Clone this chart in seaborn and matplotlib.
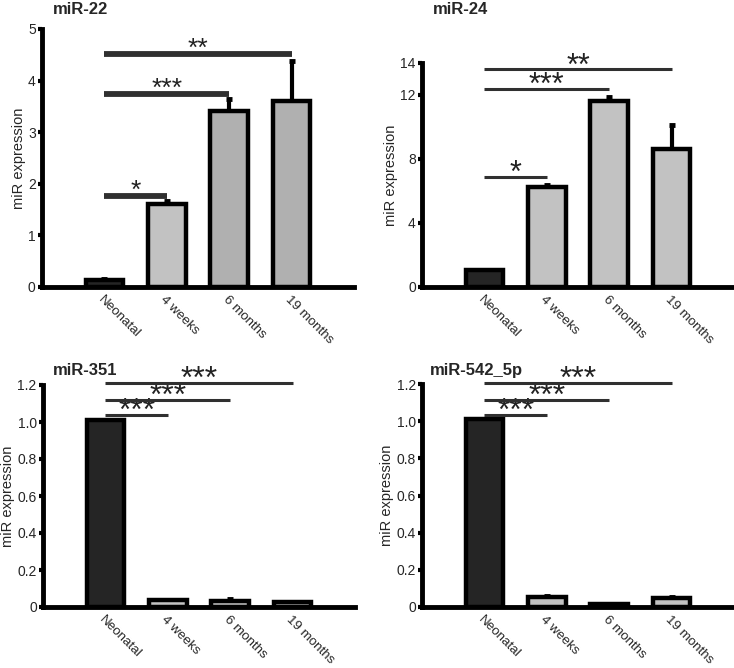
import matplotlib
matplotlib.use("Agg")
import matplotlib.pyplot as plt
import seaborn as sns
import pandas as pd

sns.set_theme(style="white")
plt.rcParams['font.family'] = ['Liberation Sans', 'DejaVu Sans']

categories = ["Neonatal", "4 weeks", "6 months", "19 months"]

mir22_vals = [0.13, 1.61, 3.41, 3.60]
mir22_err = [0.02, 0.05, 0.24, 0.78]
mir24_vals = [1.08, 6.27, 11.6, 8.6]
mir24_err = [0.0, 0.1, 0.3, 1.5]
mir351_vals = [1.01, 0.036, 0.035, 0.025]
mir351_err = [0.0, 0.004, 0.008, 0.002]
mir542_vals = [1.01, 0.056, 0.015, 0.048]
mir542_err = [0.0, 0.005, 0.003, 0.007]

mir22_colors = ["#252525", "#c2c2c2", "#b0b0b0", "#b0b0b0"]
other_colors = ["#252525", "#c2c2c2", "#c2c2c2", "#c2c2c2"]

panels = [
    dict(title="miR-22", vals=mir22_vals, err=mir22_err, colors=mir22_colors,
         ylim=5, yticks=[0, 1, 2, 3, 4, 5], yticklabels=["0", "1", "2", "3", "4", "5"],
         rect=[42/734, 1-287/668, 312/734, 258/668],
         sig=[(1, 1.77, "*"), (2, 3.75, "***"), (3, 4.52, "**")], siglw=4.2,
         title_xy=(53/734, 1-2/668), sigfs=19, gap=5),
    dict(title="miR-24", vals=mir24_vals, err=mir24_err, colors=other_colors,
         ylim=14, yticks=[0, 4, 8, 12, 14], yticklabels=["0", "4", "8", "12", "14"],
         rect=[422/734, 1-287/668, 312/734, 224/668],
         sig=[(1, 6.87, "*"), (2, 12.4, "***"), (3, 13.6, "**")], siglw=2.2,
         title_xy=(433/734, 1-2/668), sigfs=22, gap=3),
    dict(title="miR-351", vals=mir351_vals, err=mir351_err, colors=other_colors,
         ylim=1.2, yticks=[0, 0.2, 0.4, 0.6, 0.8, 1.0, 1.2],
         yticklabels=["0", "0.2", "0.4", "0.6", "0.8", "1.0", "1.2"],
         rect=[43/734, 1-607/668, 312/734, 222/668],
         sig=[(1, 1.04, "***"), (2, 1.12, "***"), (3, 1.21, "***")], siglw=2.2,
         title_xy=(53/734, 1-363/668), sigfs=23, gap=3.5),
    dict(title="miR-542_5p", vals=mir542_vals, err=mir542_err, colors=other_colors,
         ylim=1.2, yticks=[0, 0.2, 0.4, 0.6, 0.8, 1.0, 1.2],
         yticklabels=["0", "0.2", "0.4", "0.6", "0.8", "1.0", "1.2"],
         rect=[422/734, 1-607/668, 312/734, 223/668],
         sig=[(1, 1.035, "***"), (2, 1.115, "***"), (3, 1.205, "***")], siglw=2.2,
         title_xy=(430/734, 1-363/668), sigfs=23, gap=3.5),
]

fig = plt.figure(figsize=(7.34, 6.68), dpi=100)

for p in panels:
    ax = fig.add_axes(p["rect"])
    df = pd.DataFrame({"group": categories, "value": p["vals"]})
    sns.barplot(data=df, x="group", y="value", hue="group", palette=p["colors"],
                order=categories, hue_order=categories, legend=False,
                errorbar=None, width=0.6, edgecolor="black", linewidth=3.2,
                saturation=1, ax=ax, zorder=2)
    xs = list(range(len(categories)))
    ax.errorbar(xs, p["vals"], yerr=[[0]*4, p["err"]], fmt="none", ecolor="black",
                elinewidth=3, capsize=2.5, capthick=3.5, zorder=1)
    ax.set_xlim(-1.0, 4.0)
    ax.set_ylim(0, p["ylim"])
    ax.set_yticks(p["yticks"])
    ax.set_yticklabels(p["yticklabels"], fontsize=10)
    ax.set_xticks(xs)
    ax.set_xticklabels(categories, rotation=-45, ha="left", va="top",
                       rotation_mode="anchor", fontsize=9.6)
    ax.set_xlabel("")
    ax.set_ylabel("miR expression", fontsize=10.5, labelpad=1.5)
    for s in ["top", "right"]:
        ax.spines[s].set_visible(False)
    for s in ["left", "bottom"]:
        ax.spines[s].set_linewidth(3.5)
        ax.spines[s].set_color("black")
    ax.tick_params(axis="y", length=3, width=3, pad=1.5, left=True, color="black")
    ax.tick_params(axis="x", length=0, pad=4.5)
    # place asterisk glyph just above its line
    off_pt = p["gap"] * 0.72 - 0.27 * p["sigfs"]
    for (j, yv, star) in p["sig"]:
        ax.plot([0, j], [yv, yv], color="#303030", lw=p["siglw"], solid_capstyle="butt",
                clip_on=False, zorder=3)
        ax.annotate(star, xy=((0 + j) / 2, yv), xytext=(0, off_pt),
                    textcoords="offset points", ha="center", va="baseline",
                    fontsize=p["sigfs"], color="#222222", annotation_clip=False)
    fig.text(p["title_xy"][0], p["title_xy"][1], p["title"], fontsize=12,
             fontweight="bold", ha="left", va="top")

fig.savefig("out.png", dpi=100)
